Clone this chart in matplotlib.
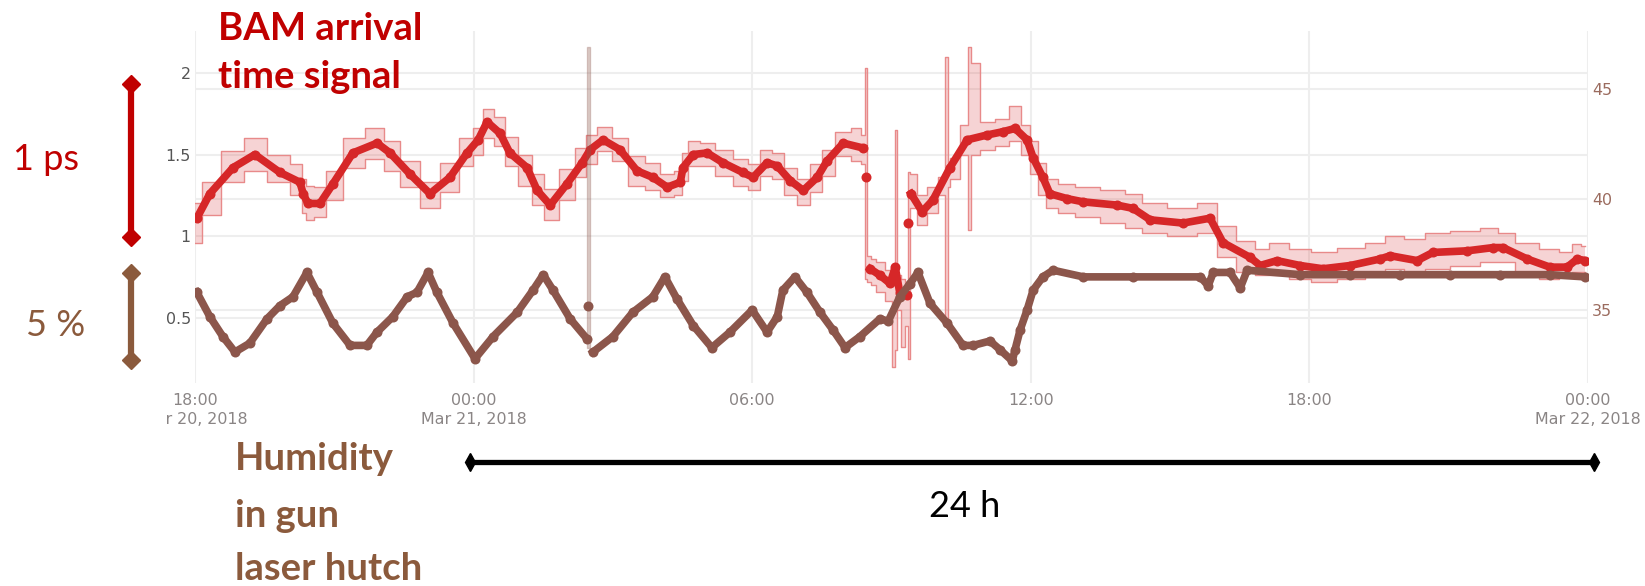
import numpy as np
import pandas as pd
import matplotlib
matplotlib.use("Agg")
import matplotlib.pyplot as plt
from matplotlib.lines import Line2D
from matplotlib.transforms import Bbox, blended_transform_factory

nan = np.nan
W, H = 1645, 586
start = pd.Timestamp("2018-03-20 18:00")

# BAM arrival time (ps), hours after 18:00 Mar 20
red_t = [0.04, 0.32, 0.82, 1.29, 1.83, 2.26, 2.33, 2.43, 2.69, 2.97,
         3.40, 3.92, 4.20, 4.63, 5.06, 5.49, 5.86, 6.10, 6.29, 6.57,
         6.78, 7.15, 7.37, 7.65, 8.01, 8.34, 8.51, 8.79, 9.15, 9.52,
         9.86, 10.17, 10.45, 10.51, 10.73, 11.03, 11.37, 11.80, 12.02, 12.32,
         12.54, 12.82, 13.10, 13.40, 13.61, 13.96, 14.39, 14.42, 14.45, 14.48,
         14.54, 14.75, 14.97, 15.08, 15.18, 15.33, 15.34, 15.36, 15.38, 15.42,
         15.66, 15.89, 16.26, 16.63, 17.06, 17.40, 17.66, 17.92, 18.05, 18.26,
         18.41, 18.78, 19.13, 19.86, 20.20, 20.57, 21.28, 21.86, 22.14, 22.72,
         22.94, 23.30, 23.80, 24.29, 24.88, 25.52, 25.74, 26.32, 26.66, 27.40,
         27.96, 28.17, 28.69, 29.18, 29.55, 29.77, 29.94]
red_v = [1.11, 1.26, 1.42, 1.50, 1.39, 1.33, 1.26, 1.20, 1.20, 1.32,
         1.51, 1.57, 1.51, 1.38, 1.26, 1.36, 1.51, 1.59, 1.70, 1.63,
         1.51, 1.42, 1.28, 1.19, 1.32, 1.45, 1.53, 1.59, 1.53, 1.40,
         1.36, 1.30, 1.33, 1.42, 1.50, 1.51, 1.45, 1.39, 1.36, 1.45,
         1.43, 1.34, 1.28, 1.36, 1.46, 1.57, 1.54, nan, 1.36, nan,
         0.80, 0.76, 0.71, 0.81, 0.65, 0.64, nan, 1.08, nan, 1.26,
         1.15, 1.22, 1.42, 1.59, 1.62, 1.64, 1.66, 1.59, 1.48, 1.36,
         1.26, 1.23, 1.21, 1.19, 1.17, 1.10, 1.08, 1.11, 0.96, 0.87,
         0.82, 0.85, 0.82, 0.80, 0.82, 0.86, 0.88, 0.85, 0.90, 0.91,
         0.93, 0.93, 0.86, 0.81, 0.81, 0.86, 0.85]

# min / max envelope of the BAM signal
band_t = [0.00, 0.32, 0.82, 1.29, 1.83, 2.26, 2.33, 2.43, 2.69, 2.97,
          3.40, 3.92, 4.20, 4.63, 5.06, 5.49, 5.86, 6.10, 6.29, 6.57,
          6.78, 7.15, 7.37, 7.65, 8.01, 8.34, 8.51, 8.79, 9.15, 9.52,
          9.86, 10.17, 10.45, 10.51, 10.73, 11.03, 11.37, 11.80, 12.02, 12.32,
          12.54, 12.82, 13.10, 13.40, 13.61, 13.96, 14.30, 14.39, 14.45, 14.50,
          14.60, 14.75, 14.97, 15.05, 15.10, 15.15, 15.25, 15.32, 15.38, 15.42,
          15.66, 15.89, 16.12, 16.18, 16.24, 16.30, 16.63, 16.68, 16.74, 17.06,
          17.40, 17.66, 17.92, 18.05, 18.26, 18.41, 18.78, 19.13, 19.86, 20.20,
          20.57, 21.28, 21.86, 22.14, 22.72, 22.94, 23.30, 23.80, 24.29, 24.88,
          25.52, 25.74, 26.32, 26.66, 27.40, 27.96, 28.17, 28.69, 29.18, 29.55,
          29.77, 29.94]
band_hi = [1.20, 1.33, 1.52, 1.60, 1.50, 1.44, 1.35, 1.31, 1.30, 1.40,
           1.60, 1.66, 1.58, 1.46, 1.33, 1.45, 1.60, 1.66, 1.78, 1.73,
           1.61, 1.50, 1.38, 1.29, 1.41, 1.54, 1.62, 1.67, 1.60, 1.49,
           1.45, 1.38, 1.40, 1.51, 1.58, 1.57, 1.53, 1.47, 1.44, 1.53,
           1.51, 1.42, 1.35, 1.44, 1.53, 1.64, 1.66, 1.62, 2.03, 0.88,
           0.86, 0.84, 0.79, 0.80, 1.65, 0.76, 0.74, 0.70, 1.39, 1.38,
           1.25, 1.30, 1.36, 2.10, 1.42, 1.48, 1.68, 2.16, 2.06, 1.70,
           1.72, 1.80, 1.68, 1.58, 1.45, 1.35, 1.32, 1.30, 1.28, 1.26,
           1.20, 1.17, 1.20, 1.06, 0.97, 0.92, 0.96, 0.92, 0.90, 0.93,
           0.96, 1.00, 0.98, 1.02, 1.03, 1.05, 1.02, 0.96, 0.92, 0.90,
           0.95, 0.94]
band_lo = [0.96, 1.13, 1.33, 1.40, 1.33, 1.25, 1.14, 1.10, 1.12, 1.22,
           1.42, 1.47, 1.40, 1.30, 1.17, 1.27, 1.43, 1.50, 1.60, 1.55,
           1.43, 1.31, 1.19, 1.10, 1.22, 1.36, 1.44, 1.52, 1.46, 1.31,
           1.28, 1.24, 1.25, 1.34, 1.43, 1.43, 1.37, 1.31, 1.28, 1.37,
           1.35, 1.25, 1.19, 1.27, 1.37, 1.49, 1.46, 1.44, 0.74, 0.72,
           0.70, 0.66, 0.60, 0.20, 0.30, 0.55, 0.32, 0.45, 0.25, 1.17,
           1.07, 1.14, 1.25, 0.47, 1.30, 1.35, 1.50, 1.04, 1.50, 1.53,
           1.55, 1.58, 1.50, 1.38, 1.25, 1.17, 1.14, 1.12, 1.08, 1.05,
           1.02, 1.00, 1.02, 0.87, 0.78, 0.76, 0.76, 0.74, 0.72, 0.74,
           0.77, 0.80, 0.77, 0.80, 0.82, 0.84, 0.84, 0.77, 0.74, 0.75,
           0.78, 0.78]

# humidity in gun laser hutch (%)
hum_t = [0.04, 0.32, 0.60, 0.86, 1.18, 1.55, 1.83, 2.11, 2.41, 2.63,
         2.97, 3.34, 3.70, 3.92, 4.26, 4.57, 4.78, 5.02, 5.21, 5.56,
         6.03, 6.42, 6.94, 7.28, 7.50, 7.71, 8.08, 8.44, 8.45, 8.46,
         8.47, 8.57, 9.00, 9.43, 9.86, 10.12, 10.38, 10.73, 11.13, 11.52,
         12.00, 12.32, 12.54, 12.66, 12.92, 13.18, 13.46, 13.74, 14.00, 14.32,
         14.75, 14.93, 15.18, 15.40, 15.57, 15.83, 16.20, 16.54, 16.76, 17.12,
         17.34, 17.60, 17.66, 17.77, 17.92, 18.05, 18.26, 18.48, 19.13, 20.20,
         21.65, 21.82, 21.93, 22.29, 22.51, 22.66, 23.80, 24.88, 25.95, 27.03,
         28.11, 29.18, 29.94]
hum_v = [35.8, 34.7, 33.8, 33.1, 33.5, 34.6, 35.2, 35.6, 36.7, 35.8,
         34.4, 33.4, 33.4, 34.0, 34.7, 35.6, 35.8, 36.7, 35.8, 34.4,
         32.8, 33.8, 34.9, 35.9, 36.6, 35.9, 34.6, 33.7, nan, 35.2,
         nan, 33.1, 33.8, 34.9, 35.6, 36.5, 35.5, 34.3, 33.3, 34.0,
         35.0, 34.0, 34.7, 35.9, 36.5, 35.8, 34.9, 34.1, 33.3, 33.8,
         34.6, 34.5, 35.6, 36.2, 36.7, 35.3, 34.4, 33.4, 33.4, 33.6,
         33.2, 32.7, 33.2, 34.1, 35.0, 35.9, 36.5, 36.8, 36.5, 36.5,
         36.5, 36.1, 36.7, 36.7, 36.0, 36.8, 36.6, 36.6, 36.6, 36.6,
         36.6, 36.6, 36.5]
hum_spike_t = [8.44, 8.50]
hum_spike_hi = [46.9, 46.9]
hum_spike_lo = [33.3, 33.3]

tick_h = [0, 6, 12, 18, 24, 30]
tick_labels = ["18:00\nMar 20, 2018", "00:00\nMar 21, 2018", "06:00", "12:00",
               "18:00", "00:00\nMar 22, 2018"]
left_ticks = [0.5, 1, 1.5, 2]
right_ticks = [35, 40, 45]


def when(hours):
    return start + pd.to_timedelta(hours, unit="h")


def fx(px):
    return px / W


def fy(py):
    return 1 - py / H


RED = "#d62728"
BROWN = "#8c564b"
DARKRED = "#c00000"
HUMBROWN = "#8b5a3c"

fig = plt.figure(figsize=(W / 100, H / 100), dpi=100)
ax = fig.add_axes([fx(195), fy(383), fx(1588) - fx(195), fy(31) - fy(383)])
ax2 = ax.twinx()

ax.set_xlim(when(0), when(30))
ax.set_ylim(0.10, 2.257)
ax2.set_ylim(31.70, 47.62)

# grid
ax.set_axisbelow(True)
ax.grid(True, color="#eeeeee", lw=1.5)
tr = blended_transform_factory(ax.transAxes, ax2.transData)
for v in right_ticks:
    ax.plot([0, 1], [v, v], transform=tr, color="#eeeeee", lw=1.5, zorder=0.5)

# BAM band + points
bt = when(band_t)
ax.fill_between(bt, band_lo, band_hi, step="mid", color=RED, alpha=0.2, lw=0)
ax.step(bt, band_hi, where="mid", color="#e88a8a", lw=1)
ax.step(bt, band_lo, where="mid", color="#e88a8a", lw=1)
ax.plot(when(red_t), red_v, color=RED, lw=5.5, marker="o", ms=7.2,
        markeredgewidth=0)

# humidity
st = when(hum_spike_t)
ax2.fill_between(st, hum_spike_lo, hum_spike_hi, color=BROWN, alpha=0.3,
                 edgecolor=BROWN, lw=1)
ax2.plot(when(hum_t), hum_v, color=BROWN, lw=5.5, marker="o", ms=7.2,
         markeredgewidth=0)

for a in (ax, ax2):
    for s in a.spines.values():
        s.set_visible(False)
    a.tick_params(length=0)

ax.set_xticks(when(tick_h))
ax.set_xticklabels(tick_labels)
ax.tick_params(axis="x", labelsize=11.4, labelcolor="#8a8585", pad=7)
for lab in ax.get_xticklabels():
    lab.set_linespacing(1.35)
ax.set_yticks(left_ticks)
ax.set_yticklabels(["0.5", "1", "1.5", "2"])
ax.tick_params(axis="y", labelsize=11.4, labelcolor="#555555", pad=3)
ax2.set_yticks(right_ticks)
ax2.tick_params(axis="y", labelsize=11.4, labelcolor="#9b6b5e", pad=3)

# cropped screenshot: first date label is cut at the left
first = ax.get_xticklabels()[0]
first.set_clip_box(Bbox([[164, 0], [400, 586]]))
first.set_clip_on(True)

# annotations
fig.text(fx(218), fy(40), "BAM arrival", family="Lato", weight="bold",
         fontsize=27.5, color=DARKRED, ha="left", va="baseline")
fig.text(fx(218), fy(88), "time signal", family="Lato", weight="bold",
         fontsize=27.5, color=DARKRED, ha="left", va="baseline")
for txt, base in [("Humidity", 470), ("in gun", 527), ("laser hutch", 580)]:
    fig.text(fx(235), fy(base), txt, family="Lato", weight="bold",
             fontsize=27.5, color=HUMBROWN, ha="left", va="baseline")
fig.text(fx(46), fy(170), "1 ps", family="Lato", fontsize=26,
         color=DARKRED, ha="center", va="baseline")
fig.text(fx(56), fy(336), "5 %", family="Lato", fontsize=26,
         color=HUMBROWN, ha="center", va="baseline")
fig.text(fx(965), fy(517), "24 h", family="Lato", fontsize=26,
         color="black", ha="center", va="baseline")

fig.add_artist(Line2D([fx(131), fx(131)], [fy(84), fy(237)], color=DARKRED,
                      lw=4.5, marker="D", ms=9.2, transform=fig.transFigure))
fig.add_artist(Line2D([fx(131), fx(131)], [fy(273), fy(360)], color=HUMBROWN,
                      lw=4.5, marker="D", ms=9.2, transform=fig.transFigure))
fig.add_artist(Line2D([fx(470), fx(1594)], [fy(462), fy(462)], color="black",
                      lw=3.8, marker="d", ms=8.7, transform=fig.transFigure))

fig.savefig("out.png", dpi=100)
